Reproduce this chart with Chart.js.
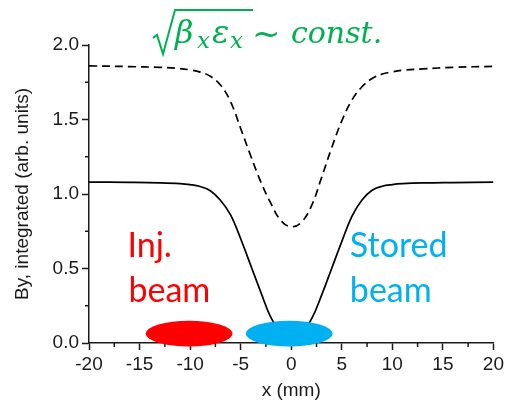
<!DOCTYPE html>
<html lang="en">
<head>
    <title>By integrated</title>
    <meta charset="UTF-8">
    <style>
        html, body {
            margin: 0;
            padding: 0;
            background: #fff;
        }
        #plot {
            width: 507px;
            height: 402px;
        }
    </style>
</head>
<body>
<div id="plot">
    <canvas id="by-plot"></canvas>
</div>
<script src="https://cdn.jsdelivr.net/npm/chart.js"></script>
<script>
    // x positions (mm) and the two field profiles
    const xValues = [-20, -16, -13, -11, -10, -9, -8, -7, -6, -5, -4, -3, -2, -1, 0,
                     1, 2, 3, 4, 5, 6, 7, 8, 9, 10, 11, 13, 16, 20];
    const solidValues = [1.08, 1.078, 1.075, 1.07, 1.063, 1.05, 1.022, 0.958, 0.86, 0.70, 0.52, 0.34, 0.17, 0.07, 0.04,
                         0.07, 0.16, 0.32, 0.50, 0.68, 0.85, 0.96, 1.025, 1.052, 1.063, 1.069, 1.074, 1.077, 1.08];
    const dashedValues = [1.86, 1.855, 1.85, 1.842, 1.833, 1.818, 1.79, 1.732, 1.62, 1.44, 1.255, 1.08, 0.935, 0.82, 0.78,
                          0.81, 0.92, 1.11, 1.31, 1.49, 1.63, 1.72, 1.775, 1.805, 1.82, 1.83, 1.84, 1.85, 1.857];
    const yTicks = [0, 0.5, 1.0, 1.5, 2.0];
    const xTicks = [-20, -15, -10, -5, 0, 5, 10, 15, 20];

    // beams drawn as ellipses (data units)
    const injBeam = { x: -10.1, y: 0.063, rx: 4.3, ry: 0.087, color: '#ff0000' };
    const storedBeam = { x: -0.2, y: 0.063, rx: 4.3, ry: 0.087, color: '#00b0f0' };

    const ink = '#1a1a1a';
    const green = '#00b050';

    const extras = {
        id: 'extras',
        afterDraw(chart) {
            const ctx = chart.ctx;
            const xs = chart.scales.x;
            const ys = chart.scales.y;
            const area = chart.chartArea;
            ctx.save();

            // minor ticks
            ctx.strokeStyle = ink;
            ctx.lineWidth = 1.5;
            ctx.beginPath();
            for (let v = 0.25; v < 2; v += 0.5) {
                const py = ys.getPixelForValue(v);
                ctx.moveTo(area.left, py);
                ctx.lineTo(area.left - 4, py);
            }
            for (let v = -17.5; v < 20; v += 5) {
                const px = xs.getPixelForValue(v);
                ctx.moveTo(px, area.bottom);
                ctx.lineTo(px, area.bottom + 4);
            }
            ctx.stroke();

            // beams
            [injBeam, storedBeam].forEach(b => {
                const cx = xs.getPixelForValue(b.x);
                const cy = ys.getPixelForValue(b.y);
                const rx = xs.getPixelForValue(b.x + b.rx) - cx;
                const ry = cy - ys.getPixelForValue(b.y + b.ry);
                ctx.fillStyle = b.color;
                ctx.beginPath();
                ctx.ellipse(cx, cy, rx, ry, 0, 0, Math.PI * 2);
                ctx.fill();
            });

            // beam labels
            ctx.font = '34px Lato';
            ctx.textBaseline = 'alphabetic';
            ctx.textAlign = 'left';
            ctx.fillStyle = injBeam.color;
            ctx.fillText('Inj.', xs.getPixelForValue(-16.2), ys.getPixelForValue(0.577));
            ctx.fillText('beam', xs.getPixelForValue(-16.1), ys.getPixelForValue(0.275));
            ctx.fillStyle = storedBeam.color;
            ctx.fillText('Stored', xs.getPixelForValue(5.8), ys.getPixelForValue(0.577));
            ctx.fillText('beam', xs.getPixelForValue(5.8), ys.getPixelForValue(0.275));

            // formula above the plot
            ctx.fillStyle = green;
            ctx.strokeStyle = green;
            ctx.lineWidth = 2;
            ctx.lineJoin = 'miter';
            ctx.beginPath();
            ctx.moveTo(153, 38);
            ctx.lineTo(157, 35);
            ctx.lineTo(163, 54);
            ctx.lineTo(175, 10);
            ctx.lineTo(253, 10);
            ctx.stroke();
            ctx.font = 'italic 32px "DejaVu Serif"';
            ctx.fillText('\u03b2', 175, 43);
            ctx.fillText('\u03b5', 212, 43);
            ctx.font = 'italic 23px "DejaVu Serif"';
            ctx.fillText('x', 197, 48);
            ctx.fillText('x', 230, 48);
            ctx.font = '34px "DejaVu Serif"';
            ctx.fillText('~', 252, 45);
            ctx.font = 'italic 30px "DejaVu Serif"';
            ctx.fillText('const.', 291, 43);

            ctx.restore();
        }
    };

    const ctx = document.getElementById('by-plot').getContext('2d');

    const by_plot = new Chart(ctx, {
        type: 'line',
        data: {
            datasets: [{
                label: 'solid',
                data: xValues.map((x, i) => ({ x: x, y: solidValues[i] })),
                borderColor: '#000',
                borderWidth: 1.7,
                pointRadius: 0,
                tension: 0.4
            }, {
                label: 'dashed',
                data: xValues.map((x, i) => ({ x: x, y: dashedValues[i] })),
                borderColor: '#000',
                borderWidth: 1.7,
                borderDash: [8, 5],
                pointRadius: 0,
                tension: 0.4
            }]
        },
        options: {
            responsive: true,
            maintainAspectRatio: false,
            animation: false,
            devicePixelRatio: 1,
            layout: {
                padding: { top: 45, right: 12, bottom: 0, left: 0 }
            },
            plugins: {
                legend: { display: false },
                tooltip: { enabled: false }
            },
            scales: {
                x: {
                    type: 'linear',
                    min: -20,
                    max: 20,
                    afterBuildTicks: scale => {
                        scale.ticks = xTicks.map(v => ({ value: v }));
                    },
                    afterFit: scale => {
                        scale.height = 59;
                    },
                    ticks: {
                        color: ink,
                        padding: 3,
                        maxRotation: 0,
                        font: { family: '"Liberation Sans", Arial', size: 19 },
                        callback: v => String(v)
                    },
                    grid: {
                        drawOnChartArea: false,
                        tickLength: 7,
                        tickColor: ink,
                        tickWidth: 1.5
                    },
                    border: { color: ink, width: 1.5 },
                    title: {
                        display: true,
                        text: 'x (mm)',
                        color: ink,
                        padding: { top: 0, bottom: 0 },
                        font: { family: '"Liberation Sans", Arial', size: 19 }
                    }
                },
                y: {
                    min: 0,
                    max: 2,
                    afterBuildTicks: scale => {
                        scale.ticks = yTicks.map(v => ({ value: v }));
                    },
                    afterFit: scale => {
                        scale.width = 89;
                    },
                    ticks: {
                        color: ink,
                        padding: 3,
                        font: { family: '"Liberation Sans", Arial', size: 19 },
                        callback: v => Number(v).toFixed(1)
                    },
                    grid: {
                        drawOnChartArea: false,
                        tickLength: 7,
                        tickColor: ink,
                        tickWidth: 1.5
                    },
                    border: { color: ink, width: 1.5 },
                    title: {
                        display: true,
                        text: 'By, integrated (arb. units)',
                        color: ink,
                        padding: { top: 11, bottom: 0 },
                        font: { family: '"Liberation Sans", Arial', size: 19 }
                    }
                }
            }
        },
        plugins: [extras]
    });
</script>
</body>
</html>
